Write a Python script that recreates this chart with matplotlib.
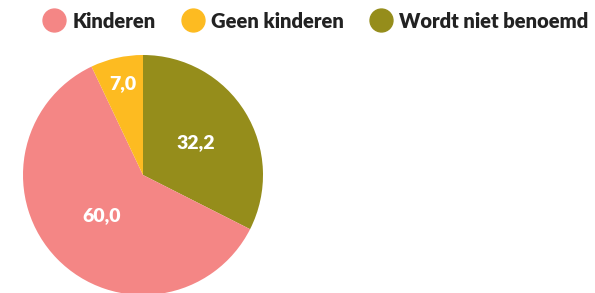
import matplotlib.pyplot as plt
from matplotlib.lines import Line2D
import numpy as np

labels = ["Kinderen", "Geen kinderen", "Wordt niet benoemd"]
values = [60.0, 7.0, 32.2]
colors = ["#F48685", "#FDBB21", "#958D1B"]

# drawing order in the pie: olive first (clockwise from 12 o'clock)
order = [2, 0, 1]
pie_vals = [values[i] for i in order]
pie_cols = [colors[i] for i in order]

plt.rcParams["font.family"] = ["Lato", "DejaVu Sans"]

fig = plt.figure(figsize=(5.95, 2.93), dpi=100)
ax = fig.add_axes([23 / 595, (293 - 295) / 293, 240 / 595, 240 / 293])
wedges, _ = ax.pie(pie_vals, colors=pie_cols, startangle=90, counterclock=False,
                   wedgeprops=dict(linewidth=0))
ax.set_xlim(-1, 1)
ax.set_ylim(-1, 1)
ax.set_aspect("equal")

dists = [0.52, 0.48, 0.78]
for w, v, d in zip(wedges, pie_vals, dists):
    ang = np.deg2rad((w.theta1 + w.theta2) / 2)
    ax.text(d * np.cos(ang), d * np.sin(ang), f"{v:.1f}".replace(".", ","),
            ha="center", va="center", color="white", fontsize=14, fontweight="heavy")

handles = [Line2D([], [], marker="o", linestyle="", markersize=16.5,
                  markerfacecolor=c, markeredgecolor=c) for c in colors]
fig.legend(handles, labels, loc="upper left", bbox_to_anchor=(32 / 595, 0.995), ncol=3,
           frameon=False, handletextpad=0.3, columnspacing=1.25, handlelength=1.2,
           prop=dict(weight="heavy", size=14.5), labelcolor="#222222", borderaxespad=0.1)

fig.savefig("out.png", dpi=100)
